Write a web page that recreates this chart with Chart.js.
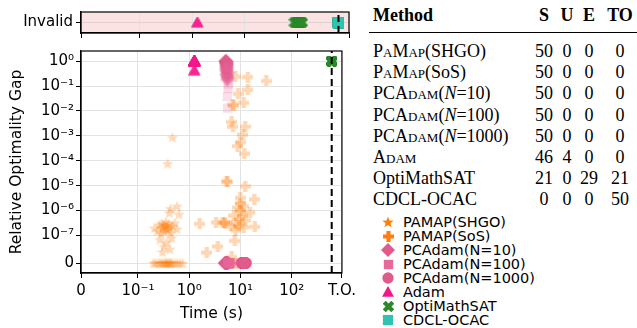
<!DOCTYPE html>
<html>
<head>
<meta charset="utf-8">
<script src="https://cdn.jsdelivr.net/npm/chart.js@4.4.1/dist/chart.umd.min.js"></script>
<style>
  body { margin: 0; background: #fff; width: 637px; height: 328px; overflow: hidden; position: relative; }
  canvas { position: absolute; left: 0; }
  #top { top: 0; }
  #main { top: 40px; }
  .cell { position: absolute; font-family: 'Liberation Serif', serif; font-size: 18px; line-height: 20px; color: #000; white-space: nowrap; }
  .sc { font-variant: small-caps; }
  .rule { position: absolute; left: 369px; width: 268px; top: 32px; height: 1.3px; background: #000; }
  .leg { position: absolute; left: 380px; font-family: 'DejaVu Sans', sans-serif; font-size: 14.5px; line-height: 14px; color: #000; white-space: nowrap; }
  .leg canvas { position: absolute; }
  .leg span { position: absolute; left: 23px; top: 0; }
</style>
</head>
<body>
<canvas id="top" width="360" height="45"></canvas>
<canvas id="main" width="360" height="288"></canvas>
<div id="table"></div>
<div id="legend"></div>
<script>
// axis ticks
const xTickVals = [0, 0.1, 1, 10, 100, 950];
const xTickLabels = ['0', '10⁻¹', '10⁰', '10¹', '10²', 'T.O.'];
const yTickVals = [0, 1e-7, 1e-6, 1e-5, 1e-4, 1e-3, 1e-2, 1e-1, 1];
const yTickLabels = ['0', '10⁻⁷', '10⁻⁶', '10⁻⁵', '10⁻⁴', '10⁻³', '10⁻²', '10⁻¹', '10⁰'];
const timeout = 600;

// PaMap(SHGO): time (s), relative gap
const shgoTime = [0.20, 0.22, 0.25, 0.27, 0.29, 0.31, 0.33, 0.35, 0.36, 0.38, 0.40, 0.42, 0.44, 0.47, 0.52, 0.58, 0.65, 0.74,
  0.21, 0.24, 0.26, 0.28, 0.29, 0.30, 0.31, 0.32, 0.33, 0.34, 0.35, 0.36, 0.37, 0.38, 0.40, 0.42, 0.44, 0.47, 0.52, 0.58,
  0.27, 0.32, 0.36, 0.42, 0.45, 0.30, 0.43, 0.63, 0.41, 0.58, 0.47, 0.38];
const shgoGap = [0, 0, 0, 0, 0, 0, 0, 0, 0, 0, 0, 0, 0, 0, 0, 0, 0, 0,
  2.0e-7, 1.5e-7, 2.6e-7, 1.2e-7, 3.0e-7, 2.2e-7, 1.8e-7, 2.7e-7, 1.4e-7, 2.3e-7, 3.4e-7, 1.9e-7, 2.5e-7, 1.6e-7, 2.9e-7, 2.1e-7, 1.3e-7, 2.4e-7, 3.2e-7, 1.8e-7,
  8.5e-8, 6e-8, 7.5e-8, 5e-8, 9e-8, 4e-8, 1.2e-6, 7e-7, 8e-7, 1.5e-6, 8.7e-4, 7.6e-5];

// PaMap(SoS)
const sosTime = [7.95, 13.9, 31.8, 13.9, 8.95, 11.5, 7.1, 7.4, 6.7, 7.1, 12.3, 11.1, 9.9, 8.8, 11.8, 5.3, 5.6, 12.3, 9.9, 18.5,
  11.5, 8.6, 15.3, 7.4, 10.7, 4.8, 4.5, 3.33, 1.6, 6.4, 9.2, 19.0, 11.5, 8.0, 7.7, 3.6, 2.2, 6.7, 8.6, 7.0,
  5.0, 9.5, 10.2, 8.2, 12.5, 9.8];
const sosGap = [0.24, 0.23, 0.16, 0.07, 0.048, 0.021, 0.018, 0.016, 0.0036, 0.0023, 0.0023, 0.0011, 5.5e-4, 3.9e-4, 1.9e-4, 1.5e-5, 1.4e-5, 9.4e-6, 3.2e-6, 2.8e-6,
  1.5e-6, 1.3e-6, 8.3e-7, 6.3e-7, 6.3e-7, 3.4e-7, 3.2e-7, 3.3e-7, 2.9e-7, 2.4e-7, 2.4e-7, 2.2e-7, 2.1e-7, 1.6e-7, 8e-8, 6e-8, 3.8e-8, 2.2e-8, 0, 0,
  3.0e-7, 4.5e-7, 1.0e-6, 3.0e-7, 4e-7, 2.0e-6];

// PCAdam(N=10)
const n10Time = [5.0, 5.1, 5.2, 5.3, 5.2, 5.4, 5.1, 5.3, 5.2, 5.4, 5.3, 5.5, 5.2, 5.4, 5.3, 5.5, 5.3, 5.4, 5.2, 5.5,
  5.3, 5.4, 5.6, 5.3, 5.5, 5.4, 5.6, 5.5,
  4.9, 5.0, 5.0, 5.1, 5.1, 5.2, 5.2, 5.2, 5.3, 5.3, 5.3, 5.4, 5.4, 5.5, 5.5, 5.6, 5.6, 5.7, 5.8, 5.0, 5.3, 5.5];
const n10Gap = [1.0, 1.0, 1.0, 0.98, 0.96, 0.95, 0.92, 0.9, 0.87, 0.85, 0.8, 0.78, 0.74, 0.7, 0.66, 0.62, 0.57, 0.53, 0.49, 0.45,
  0.41, 0.37, 0.33, 0.3, 0.27, 0.24, 0.21, 0.18,
  0, 0, 0, 0, 0, 0, 0, 0, 0, 0, 0, 0, 0, 0, 0, 0, 0, 0, 0, 0, 0, 0];

// PCAdam(N=100)
const n100Time = [5.55, 5.6, 5.7, 5.6, 5.8, 5.65, 5.7, 5.6,
  5.4, 5.5, 5.5, 5.6, 5.6, 5.7, 5.7, 5.8, 5.8, 5.9, 5.9, 6.0, 6.0, 6.1, 6.1, 6.2, 6.2, 6.3, 6.4, 6.5,
  5.5, 5.6, 5.7, 5.8, 5.9, 6.0, 6.1, 6.2, 5.6, 5.8, 6.0, 5.7, 5.9, 6.1, 5.8, 6.0, 5.9, 6.0];
const n100Gap = [0.038, 0.013, 0.2, 0.3, 0.12, 0.5, 0.08, 0.65,
  0, 0, 0, 0, 0, 0, 0, 0, 0, 0, 0, 0, 0, 0, 0, 0, 0, 0, 0, 0,
  0, 0, 0, 0, 0, 0, 0, 0, 0, 0, 0, 0, 0, 0, 0, 0, 0, 0];

// PCAdam(N=1000)
const n1000Time = [10.2, 10.4, 10.5, 10.6, 10.7, 10.8, 10.9, 11.0, 11.0, 11.1, 11.2, 11.2, 11.3, 11.4, 11.4, 11.5, 11.5, 11.6, 11.6, 11.7,
  11.7, 11.8, 11.8, 11.9, 11.9, 12.0, 12.0, 12.1, 12.1, 12.2, 12.2, 12.3, 12.3, 12.4, 12.5, 12.5, 12.6, 12.7, 12.8, 13.0,
  11.3, 11.6, 11.9, 12.2, 11.5, 11.8, 12.1, 11.4, 11.7, 12.0];
const n1000Gap = [0, 0, 0, 0, 0, 0, 0, 0, 0, 0, 0, 0, 0, 0, 0, 0, 0, 0, 0, 0,
  0, 0, 0, 0, 0, 0, 0, 0, 0, 0, 0, 0, 0, 0, 0, 0, 0, 0, 0, 0,
  0, 0, 0, 0, 0, 0, 0, 0, 0, 0];

// Adam
const adamTime = [1.22, 1.23, 1.24, 1.25, 1.26, 1.27, 1.28, 1.29, 1.30, 1.24, 1.25, 1.26, 1.27, 1.23, 1.28, 1.25, 1.26, 1.24, 1.27, 1.25,
  1.26, 1.23, 1.28, 1.25, 1.24, 1.26, 1.27, 1.25, 1.29, 1.24, 1.26, 1.25, 1.27, 1.23, 1.26, 1.25, 1.28, 1.24, 1.26, 1.25,
  1.24, 1.25, 1.26, 1.27, 1.25, 1.26];
const adamGap = [1.0, 1.0, 0.99, 1.0, 0.98, 1.0, 0.97, 1.0, 0.99, 1.0, 0.96, 1.0, 0.98, 1.0, 0.99, 1.0, 0.95, 1.0, 0.97, 1.0,
  0.99, 1.0, 0.98, 1.0, 0.96, 1.0, 0.99, 1.0, 0.97, 1.0, 0.98, 1.0, 0.94, 1.0, 0.99, 1.0, 0.97, 1.0, 0.98, 1.0,
  0.42, 0.44, 0.4, 0.43, 0.45, 0.41];
const adamInvalidTime = [1.24, 1.26, 1.25, 1.27];

// OptiMathSAT
const omsTime = [600, 600, 600, 600, 600, 600, 600, 600, 600, 600, 600, 600, 600, 600, 600, 600, 600, 600, 600, 600, 600];
const omsGap = [1, 1, 1, 1, 1, 1, 1, 1, 1, 1, 1, 1, 1, 1, 1, 1, 1, 1, 1, 1, 1];
const omsInvalidTime = [85, 88, 90, 92, 94, 95, 97, 98, 99, 100, 101, 102, 103, 104, 105, 106, 107, 108, 109, 110,
  111, 112, 114, 115, 117, 119, 121, 123, 125];

// CDCL-OCAC
const cdclInvalidTime = [600, 600, 600, 600, 600, 600, 600, 600, 600, 600, 600, 600, 600, 600, 600, 600, 600, 600, 600, 600,
  600, 600, 600, 600, 600, 600, 600, 600, 600, 600, 600, 600, 600, 600, 600, 600, 600, 600, 600, 600,
  600, 600, 600, 600, 600, 600, 600, 600, 600, 600];

// table on the right
const tableMethods = ['<span class="sc">PaMap</span>(SHGO)', '<span class="sc">PaMap</span>(SoS)',
  'PC<span class="sc">Adam</span>(<i>N</i>=10)', 'PC<span class="sc">Adam</span>(<i>N</i>=100)',
  'PC<span class="sc">Adam</span>(<i>N</i>=1000)', '<span class="sc">Adam</span>', 'OptiMathSAT', 'CDCL-OCAC'];
const colS = [50, 50, 50, 50, 50, 46, 21, 0];
const colU = [0, 0, 0, 0, 0, 4, 0, 0];
const colE = [0, 0, 0, 0, 0, 0, 29, 0];
const colTO = [0, 0, 0, 0, 0, 0, 21, 50];

const legendNames = ['PAMAP(SHGO)', 'PAMAP(SoS)', 'PCAdam(N=10)', 'PCAdam(N=100)', 'PCAdam(N=1000)', 'Adam', 'OptiMathSAT', 'CDCL-OCAC'];

// colours / markers
const ORANGE = '#ff7f0e', PINK = '#e05a8c', PINK2 = '#e8689a', ADAM = '#f5168c', GREEN = '#2a8a2a', TEAL = '#2ec4b0';
const LINSCALE = 1 / (1 - 1 / 10);

function marker(shape, color, alpha, size) {
  const c = document.createElement('canvas');
  c.width = c.height = size;
  const g = c.getContext('2d');
  const r = size / 2;
  g.globalAlpha = alpha;
  g.fillStyle = color;
  g.translate(r, r);
  g.beginPath();
  if (shape === 'star') {
    for (let i = 0; i < 10; i++) {
      const rr = i % 2 ? r * 0.42 : r;
      const a = -Math.PI / 2 + i * Math.PI / 5;
      g.lineTo(rr * Math.cos(a), rr * Math.sin(a) + r * 0.08);
    }
  } else if (shape === 'plus' || shape === 'x') {
    if (shape === 'x') { g.rotate(Math.PI / 4); }
    const w = r * 0.38, e = shape === 'x' ? r * 1.1 : r;
    g.moveTo(-w, -e); g.lineTo(w, -e); g.lineTo(w, -w); g.lineTo(e, -w); g.lineTo(e, w); g.lineTo(w, w);
    g.lineTo(w, e); g.lineTo(-w, e); g.lineTo(-w, w); g.lineTo(-e, w); g.lineTo(-e, -w); g.lineTo(-w, -w);
  } else if (shape === 'diamond') {
    g.moveTo(0, -r); g.lineTo(r, 0); g.lineTo(0, r); g.lineTo(-r, 0);
  } else if (shape === 'square') {
    g.rect(-r * 0.85, -r * 0.85, r * 1.7, r * 1.7);
  } else if (shape === 'circle') {
    g.arc(0, 0, r * 0.95, 0, Math.PI * 2);
  } else if (shape === 'triangle') {
    g.moveTo(0, -r); g.lineTo(r, r * 0.8); g.lineTo(-r, r * 0.8);
  }
  g.closePath();
  g.fill();
  return c;
}

// symmetric log scale like matplotlib's symlog (linscale = 1)
class SymlogScale extends Chart.LinearScale {
  static id = 'symlog';
  static defaults = {};
  tf(v) {
    const c = this.options.linthresh, a = Math.abs(v), s = v < 0 ? -1 : 1;
    return a <= c ? s * LINSCALE * a / c : s * (LINSCALE + Math.log10(a / c));
  }
  inv(t) {
    const c = this.options.linthresh, a = Math.abs(t), s = t < 0 ? -1 : 1;
    return a <= LINSCALE ? s * a * c / LINSCALE : s * c * Math.pow(10, a - LINSCALE);
  }
  getPixelForValue(v) {
    const a = this.tf(this.min), b = this.tf(this.max);
    return this.getPixelForDecimal((this.tf(v) - a) / (b - a));
  }
  getValueForPixel(p) {
    const a = this.tf(this.min), b = this.tf(this.max);
    return this.inv(a + this.getDecimalForPixel(p) * (b - a));
  }
}
Chart.register(SymlogScale);

Chart.defaults.font.family = "'DejaVu Sans', sans-serif";
Chart.defaults.font.size = 15;
Chart.defaults.color = '#000';

const Y_MIN = -3.6e-8, Y_MAX = 2.56, X_MAX = 950;

const pts = (ts, gs) => ts.map((t, i) => ({ x: t, y: gs[i] }));
const row = ts => ts.map(t => ({ x: t, y: 0.5 }));

const framePlugin = {
  id: 'frame',
  beforeDraw(chart, args, opts) {
    if (!opts.fill) return;
    const a = chart.chartArea, ctx = chart.ctx;
    ctx.save();
    ctx.fillStyle = opts.fill;
    ctx.fillRect(a.left, a.top, a.right - a.left, a.bottom - a.top);
    ctx.restore();
  },
  afterDraw(chart) {
    const a = chart.chartArea, ctx = chart.ctx;
    ctx.save();
    ctx.strokeStyle = '#000';
    ctx.lineWidth = 1.2;
    ctx.strokeRect(a.left, a.top, a.right - a.left, a.bottom - a.top);
    ctx.restore();
  }
};

const xScale = (showLabels, height) => ({
  type: 'symlog', linthresh: 0.1, min: 0, max: X_MAX, bounds: 'data',
  afterBuildTicks: s => { s.ticks = xTickVals.map(v => ({ value: v })); },
  afterFit: s => { s.height = height; },
  ticks: { autoSkip: false, maxRotation: 0, padding: 4, callback: (v, i) => showLabels ? xTickLabels[i] : '' },
  grid: { color: '#e3e3e3', lineWidth: 1, tickColor: '#000', tickLength: 5 },
  border: { color: '#000', width: 1.2 }
});

const dash = (y0, y1) => ({
  type: 'line', data: [{ x: timeout, y: y0 }, { x: timeout, y: y1 }],
  borderColor: '#000', borderWidth: 2, borderDash: [7, 4], pointRadius: 0, order: -1
});

// invalid panel
new Chart(document.getElementById('top'), {
  type: 'scatter',
  data: {
    datasets: [
      { label: 'Adam', data: row(adamInvalidTime), pointStyle: marker('triangle', ADAM, 0.5, 12), order: 3 },
      { label: 'OptiMathSAT', data: row(omsInvalidTime), pointStyle: marker('x', GREEN, 0.5, 11), order: 2 },
      { label: 'CDCL-OCAC', data: row(cdclInvalidTime), pointStyle: marker('square', TEAL, 0.5, 12), order: 1 },
      dash(0, 1)
    ]
  },
  options: {
    responsive: false, animation: false, events: [],
    layout: { padding: { top: 6.5, right: 11, left: 0, bottom: 0 } },
    plugins: { legend: { display: false }, tooltip: { enabled: false }, frame: { fill: '#fce3e3' } },
    scales: {
      x: xScale(false, 10.5),
      y: {
        type: 'linear', min: 0, max: 1,
        afterBuildTicks: s => { s.ticks = [{ value: 0.5 }]; },
        afterFit: s => { s.width = 81; },
        ticks: { padding: 3, callback: () => 'Invalid' },
        grid: { color: '#e3d0d0', tickColor: '#000', tickLength: 5 },
        border: { color: '#000', width: 1.2 }
      }
    }
  },
  plugins: [framePlugin]
});

// main panel
new Chart(document.getElementById('main'), {
  type: 'scatter',
  data: {
    datasets: [
      { label: legendNames[0], data: pts(shgoTime, shgoGap), pointStyle: marker('star', ORANGE, 0.3, 12), order: 8 },
      { label: legendNames[1], data: pts(sosTime, sosGap), pointStyle: marker('plus', ORANGE, 0.32, 11), order: 7 },
      { label: legendNames[2], data: pts(n10Time, n10Gap), pointStyle: marker('diamond', PINK, 0.45, 14), order: 6 },
      { label: legendNames[3], data: pts(n100Time, n100Gap), pointStyle: marker('square', PINK2, 0.22, 11), order: 5 },
      { label: legendNames[4], data: pts(n1000Time, n1000Gap), pointStyle: marker('circle', PINK, 0.45, 12), order: 4 },
      { label: legendNames[5], data: pts(adamTime, adamGap), pointStyle: marker('triangle', ADAM, 0.35, 12), order: 3 },
      { label: legendNames[6], data: pts(omsTime, omsGap), pointStyle: marker('x', GREEN, 0.5, 11), order: 2 },
      dash(Y_MIN, Y_MAX)
    ]
  },
  options: {
    responsive: false, animation: false, events: [],
    layout: { padding: { top: 7, right: 11, left: 0, bottom: 0 } },
    plugins: { legend: { display: false }, tooltip: { enabled: false }, frame: {} },
    scales: {
      x: Object.assign(xScale(true, 55), {
        title: { display: true, text: 'Time (s)', font: { size: 15.5 }, padding: { top: 0, bottom: 5 } }
      }),
      y: {
        type: 'symlog', linthresh: 1e-7, min: Y_MIN, max: Y_MAX, bounds: 'data',
        afterBuildTicks: s => { s.ticks = yTickVals.map(v => ({ value: v })); },
        afterFit: s => { s.width = 81; },
        ticks: { autoSkip: false, padding: 2, callback: (v, i) => yTickLabels[i] },
        grid: { color: '#e3e3e3', lineWidth: 1, tickColor: '#000', tickLength: 5 },
        border: { color: '#000', width: 1.2 },
        title: { display: true, text: 'Relative Optimality Gap', font: { size: 15.5 }, padding: { top: 8, bottom: 0 } }
      }
    }
  },
  plugins: [framePlugin]
});

// table
const tbl = document.getElementById('table');
const colX = [544, 567, 589, 620];
function cell(html, x, cy, align, bold) {
  const d = document.createElement('div');
  d.className = 'cell';
  d.innerHTML = html;
  d.style.top = (cy - 10) + 'px';
  if (align === 'center') { d.style.left = (x - 25) + 'px'; d.style.width = '50px'; d.style.textAlign = 'center'; }
  else d.style.left = x + 'px';
  if (bold) d.style.fontWeight = 'bold';
  tbl.appendChild(d);
}
cell('Method', 373, 15, 'left', true);
['S', 'U', 'E', 'TO'].forEach((h, j) => cell(h, colX[j], 15, 'center', true));
const rule = document.createElement('div');
rule.className = 'rule';
tbl.appendChild(rule);
tableMethods.forEach((m, i) => {
  const cy = 51 + 21.2 * i;
  cell(m, 373, cy, 'left', false);
  [colS, colU, colE, colTO].forEach((col, j) => cell(String(col[i]), colX[j], cy, 'center', false));
});

// legend
const legendMarks = [marker('star', ORANGE, 1, 12), marker('plus', ORANGE, 1, 11), marker('diamond', PINK, 1, 14),
  marker('square', PINK2, 1, 11), marker('circle', PINK, 1, 12), marker('triangle', ADAM, 1, 12),
  marker('x', GREEN, 1, 11), marker('square', TEAL, 1, 12)];
const leg = document.getElementById('legend');
legendNames.forEach((name, i) => {
  const d = document.createElement('div');
  d.className = 'leg';
  d.style.top = (215 + 14 * i) + 'px';
  const m = legendMarks[i];
  m.style.left = (8 - m.width / 2) + 'px';
  m.style.top = (7 - m.height / 2) + 'px';
  d.appendChild(m);
  const s = document.createElement('span');
  s.textContent = name;
  d.appendChild(s);
  leg.appendChild(d);
});
</script>
</body>
</html>
